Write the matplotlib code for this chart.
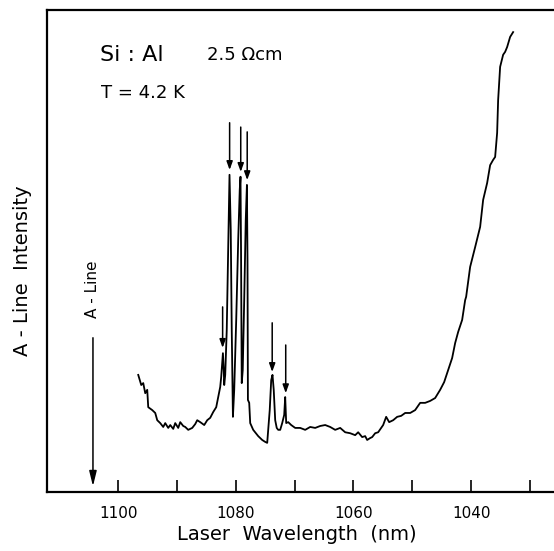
import matplotlib
matplotlib.use("Agg")
import matplotlib.pyplot as plt

# spectrum (wavelength in nm, intensity in arb. units 0-100)
wavelength = [
    1096.60, 1096.09, 1095.75, 1095.41, 1095.07, 1094.90, 1094.22, 1093.71, 1093.37, 1092.86,
    1092.35, 1092.01, 1091.50, 1091.16, 1090.65, 1090.31, 1089.80, 1089.46, 1088.95, 1088.61,
    1088.10, 1087.42, 1086.91, 1086.57, 1086.06, 1085.38, 1084.87, 1084.36, 1083.85, 1083.34,
    1083.00, 1082.66, 1082.49, 1082.20, 1082.06, 1081.98, 1081.81, 1081.55, 1081.30, 1081.08,
    1080.87, 1080.70, 1080.50, 1080.28, 1079.94, 1079.60, 1079.34, 1079.21, 1079.12, 1079.00,
    1078.83, 1078.58, 1078.32, 1078.12, 1078.02, 1077.95, 1077.73, 1077.56, 1077.05, 1076.20,
    1075.52, 1075.01, 1074.67, 1074.50, 1074.24, 1073.99, 1073.77, 1073.56, 1073.31, 1073.05,
    1072.80, 1072.46, 1072.12, 1071.78, 1071.61, 1071.44, 1071.10, 1070.59, 1069.91, 1069.06,
    1068.21, 1067.36, 1066.51, 1065.66, 1064.81, 1063.96, 1063.11, 1062.26, 1061.41, 1060.56,
    1059.71, 1059.20, 1058.52, 1058.01, 1057.67, 1057.16, 1056.82, 1056.31, 1055.80, 1054.95,
    1054.44, 1053.93, 1053.25, 1052.57, 1051.89, 1051.21, 1050.36, 1049.51, 1048.66, 1047.81,
    1046.96, 1046.11, 1045.26, 1044.58, 1044.07, 1043.22, 1042.71, 1042.20, 1041.52, 1041.01,
    1040.84, 1040.16, 1039.31, 1038.46, 1037.95, 1037.27, 1036.76, 1036.25, 1035.91, 1035.57,
    1035.40, 1035.06, 1034.55, 1034.21, 1033.87, 1033.36, 1032.85,
]
intensity = [
    24.3, 22.2, 22.6, 20.5, 21.2, 17.6, 17.0, 16.4, 14.9, 14.3,
    13.5, 14.3, 13.3, 13.9, 13.1, 14.3, 13.3, 14.5, 13.7, 13.5,
    12.9, 13.3, 14.1, 14.9, 14.5, 13.9, 14.9, 15.4, 16.6, 17.6,
    19.7, 21.8, 23.9, 28.8, 25.3, 22.2, 24.3, 33.6, 50.2, 65.8,
    54.4, 33.6, 15.6, 21.2, 35.7, 52.3, 62.7, 65.4, 50.2, 22.6,
    25.3, 39.8, 56.4, 63.7, 48.1, 19.1, 18.5, 14.3, 12.9, 11.6,
    10.8, 10.4, 10.2, 12.9, 17.0, 23.2, 24.3, 21.2, 14.9, 13.3,
    12.9, 12.9, 14.3, 16.0, 19.7, 14.3, 14.5, 13.9, 13.3, 13.3,
    12.9, 13.5, 13.3, 13.7, 13.9, 13.5, 12.9, 13.3, 12.4, 12.2,
    11.8, 12.4, 11.4, 11.6, 10.8, 11.2, 11.4, 12.2, 12.4, 13.9,
    15.6, 14.5, 14.9, 15.6, 15.8, 16.4, 16.4, 17.0, 18.5, 18.5,
    18.9, 19.5, 21.2, 22.8, 24.7, 27.8, 30.9, 33.2, 35.7, 39.8,
    40.5, 46.7, 50.8, 55.0, 60.6, 64.1, 67.8, 68.9, 69.5, 74.5,
    81.3, 88.2, 90.7, 91.3, 92.3, 94.4, 95.4,
]

# marker arrows above the lines: x, arrow top, arrow tip
arrow_x = [1082.25, 1081.06, 1079.17, 1078.07, 1073.82, 1071.52]
arrow_top = [38.4, 76.6, 75.7, 74.7, 35.1, 30.5]
arrow_tip = [29.9, 66.8, 66.4, 64.7, 24.9, 20.5]

# A-line position
aline_x = 1104.3
aline_top = 32.0
aline_tip = 1.2

major_ticks = [1100, 1090, 1080, 1070, 1060, 1050, 1040, 1030]
tick_labels = ['1100', '', '1080', '', '1060', '', '1040', '']

fig = plt.figure(figsize=(5.54, 5.51), dpi=100)
ax = fig.add_axes([0.085, 0.107, 0.915, 0.875])

ax.plot(wavelength, intensity, color='black', lw=1.3)

for x, y0, y1 in zip(arrow_x, arrow_top, arrow_tip):
    ax.annotate('', xy=(x, y1), xytext=(x, y0),
                arrowprops=dict(arrowstyle='-|>,head_length=0.5,head_width=0.18',
                                color='black', lw=1.1, shrinkA=0, shrinkB=0))

ax.annotate('', xy=(aline_x, aline_tip), xytext=(aline_x, aline_top),
            arrowprops=dict(arrowstyle='-|>,head_length=0.9,head_width=0.22',
                            color='black', lw=1.1, shrinkA=0, shrinkB=0))
ax.text(0.090, 0.42, 'A - Line', transform=ax.transAxes, rotation=90,
        ha='center', va='center', fontsize=11)

ax.text(0.105, 0.907, 'Si : Al', transform=ax.transAxes, fontsize=16,
        ha='left', va='center')
ax.text(0.316, 0.907, '2.5 Ωcm', transform=ax.transAxes, fontsize=13,
        ha='left', va='center')
ax.text(0.107, 0.828, 'T = 4.2 K', transform=ax.transAxes, fontsize=13,
        ha='left', va='center')

ax.set_xlim(1112.1, 1025.9)
ax.set_ylim(0, 100)
ax.set_xticks(major_ticks)
ax.set_xticklabels(tick_labels)
ax.set_yticks([])
ax.tick_params(axis='x', direction='in', length=9, width=1.2, labelsize=11, pad=10)

ax.spines['right'].set_visible(False)
for side in ['left', 'top', 'bottom']:
    ax.spines[side].set_linewidth(1.6)

ax.set_xlabel('Laser  Wavelength  (nm)', fontsize=14)
ax.set_ylabel('A - Line  Intensity', fontsize=14)
ax.xaxis.set_label_coords(0.493, -0.068)
ax.yaxis.set_label_coords(-0.03, 0.46)

fig.savefig('out.png', dpi=100)
